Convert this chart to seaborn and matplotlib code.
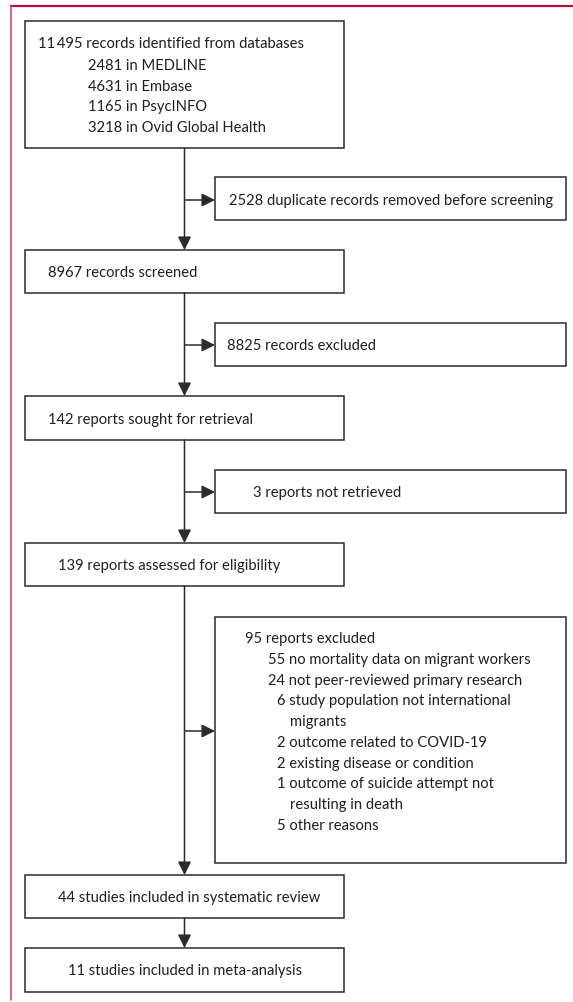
import matplotlib
matplotlib.use("Agg")
import matplotlib.pyplot as plt
import seaborn as sns
from matplotlib.patches import Rectangle

# counts in the PRISMA flow
identified = 11495
sources = ["MEDLINE", "Embase", "PsycINFO", "Ovid Global Health"]
source_counts = [2481, 4631, 1165, 3218]
duplicates = 2528
screened = 8967
screen_excluded = 8825
sought = 142
not_retrieved = 3
assessed = 139
excluded_total = 95
reasons = ["no mortality data on migrant workers",
           "not peer-reviewed primary research",
           "study population not international\nmigrants",
           "outcome related to COVID-19",
           "existing disease or condition",
           "outcome of suicide attempt not\nresulting in death",
           "other reasons"]
reason_counts = [55, 24, 6, 2, 2, 1, 5]
in_review = 44
in_meta = 11

sns.set_style("white")
plt.rcParams['font.family'] = ['Lato', 'DejaVu Sans']

W, H = 573, 1003
fig = plt.figure(figsize=(W / 100, H / 100), dpi=100)
ax = fig.add_axes([0, 0, 1, 1])
ax.set_xlim(0, W)
ax.set_ylim(H, 0)
ax.axis("off")

LC = "#2b2b2b"
LW = 1.1
FS = 10.6
TC = "#1e1e1e"

# page border
ax.plot([10, W], [7, 7], color="#b5123a", lw=1.6, solid_capstyle="butt")
ax.plot([10.5, 10.5], [7, 1001], color="#d94a7a", lw=1.2)

def box(x0, y0, x1, y1):
    ax.add_patch(Rectangle((x0, y0), x1 - x0, y1 - y0, fill=False,
                           edgecolor=LC, lw=LW))

def txt(x, y, s):
    ax.text(x, y, s, fontsize=FS, color=TC, va="center", ha="left")

def arrow(x0, y0, x1, y1):
    ax.annotate("", xy=(x1, y1), xytext=(x0, y0),
                arrowprops=dict(arrowstyle="-|>,head_length=0.8,head_width=0.4",
                                color=LC, lw=LW, shrinkA=0, shrinkB=0))

fmt = lambda n: f"{n:,}".replace(",", "\u2009")

MX0, MX1 = 25, 344
SX0, SX1 = 215, 566
CX = 184.5

main = [(22, 149), (251, 294), (397, 441), (544, 587), (876, 919), (949, 993)]
side = [(178, 221), (324, 367), (471, 514), (618, 864)]
side_arrow_y = [201, 346, 493, 732]

for y0, y1 in main:
    box(MX0, y0, MX1, y1)
for y0, y1 in side:
    box(SX0, y0, SX1, y1)

# connectors
for (a0, a1), (b0, b1) in zip(main[:-1], main[1:]):
    arrow(CX, a1, CX, b0)
for ya in side_arrow_y:
    arrow(CX, ya, SX0, ya)

# main box texts
txt(38, 44, f"{fmt(identified)} records identified from databases")
for i, (n, s) in enumerate(zip(source_counts, sources)):
    txt(88, 66 + i * 20.5, f"{n} in {s}")
txt(48, 273, f"{screened} records screened")
txt(48, 420, f"{sought} reports sought for retrieval")
txt(58, 566, f"{assessed} reports assessed for eligibility")
txt(58, 898, f"{in_review} studies included in systematic review")
txt(68, 971, f"{in_meta} studies included in meta-analysis")

# side box texts
txt(229, 201, f"{duplicates} duplicate records removed before screening")
txt(227, 346, f"{screen_excluded} records excluded")
txt(253, 493, f"{not_retrieved} reports not retrieved")

txt(245, 639, f"{excluded_total} reports excluded")
y = 660
step = 20.7
for n, s in zip(reason_counts, reasons):
    x = 268 if n >= 10 else 277
    lines = s.split("\n")
    txt(x, y, f"{n} {lines[0]}")
    for extra in lines[1:]:
        y += step
        txt(290, y, extra)
    y += step

fig.savefig("out.png", dpi=100, facecolor="white")
